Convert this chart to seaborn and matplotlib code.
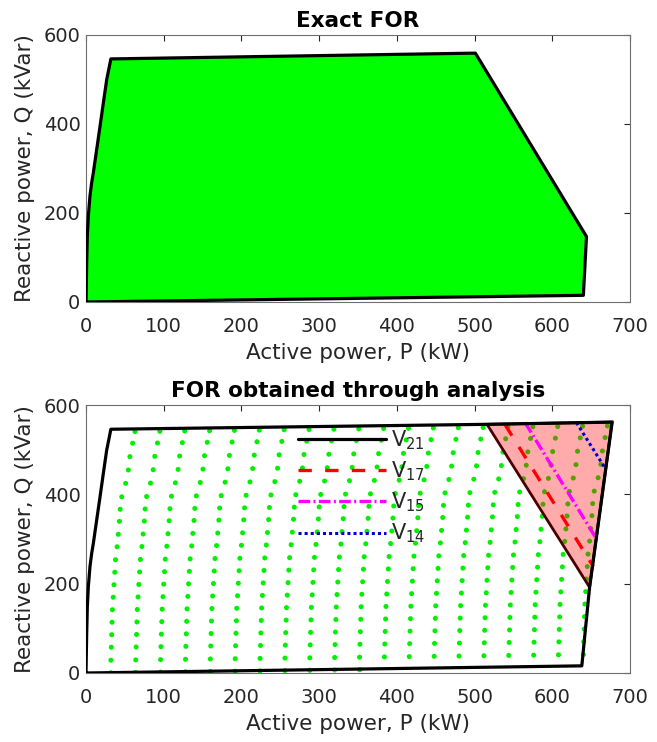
import numpy as np
import pandas as pd
import matplotlib
matplotlib.use("Agg")
import matplotlib.pyplot as plt
import seaborn as sns
from matplotlib.path import Path
from matplotlib.lines import Line2D

# ---------------- data ----------------
# left boundary of the feasible region (shared by both panels)
left_edge_q = [0, 89, 148, 193, 238, 268, 290, 342, 394, 447, 499, 546]
left_edge_p = [0, 0.9, 1.7, 3.0, 5.1, 7.3, 9.4, 13.7, 18.0, 22.3, 26.6, 32.0]

# exact FOR: remaining vertices (clockwise from top-left)
exact_rest_p = [501, 644, 640]
exact_rest_q = [559, 147, 15]

# FOR obtained through analysis: remaining vertices
analysis_rest_p = [516, 677, 648, 638]
analysis_rest_q = [557, 562, 192, 16]

# shaded (red) region
tri_p = [516, 677, 648]
tri_q = [557, 562, 192]

# voltage limit lines
v17_p = [539, 653]
v17_q = [557, 238]
v15_p = [565, 657]
v15_q = [561, 300]
v14_p = [631, 669]
v14_q = [561, 456]

# sampling grid of the analysis (green dots)
dot_row_q = [0, 28, 57, 85, 113, 141, 169, 197, 225, 253, 282, 310, 339, 366,
             394, 424, 454, 484, 514, 540]
dot_row_shift = [0, 0, 0.5, 1, 1.5, 2, 3, 4, 5, 6, 8, 9.5, 11, 12, 14, 19,
                 22.5, 24.5, 28, 31]
dot_col_p = [32, 64, 96, 128, 160, 192, 224, 256, 288, 320, 352, 384, 416,
             448, 480, 512, 544, 576, 608, 640]
dot_col_rise = [0.7, 1.3, 2, 2.7, 3.4, 4, 4.7, 5.4, 6, 6.7, 7.4, 8, 8.7,
                9.4, 10, 10.7, 11.4, 12, 12.7, 13.4]

x_ticks = [0, 100, 200, 300, 400, 500, 600, 700]
y_ticks = [0, 200, 400, 600]
legend_labels = [r"$\mathregular{V_{21}}$", r"$\mathregular{V_{17}}$",
                 r"$\mathregular{V_{15}}$", r"$\mathregular{V_{14}}$"]

# ---------------- style ----------------
sns.set_theme(style="white")
plt.rcParams["font.family"] = ["DejaVu Sans"]
plt.rcParams["mathtext.fontset"] = "dejavusans"

fig = plt.figure(figsize=(6.57, 7.42), dpi=100)
ax1 = fig.add_axes([0.1309, 0.593, 0.828, 0.360])
ax2 = fig.add_axes([0.1309, 0.093, 0.828, 0.361])

GREEN = "#00ff00"
TXT = "#262626"


def style_axes(ax, title):
    ax.set_xlim(0, 700)
    ax.set_ylim(0, 600)
    ax.set_xticks(x_ticks)
    ax.set_yticks(y_ticks)
    ax.tick_params(direction="in", length=4, width=0.8, top=True, right=True,
                   labelsize=14, colors=TXT)
    ax.tick_params(axis="x", pad=11)
    ax.tick_params(axis="y", pad=4)
    for s in ax.spines.values():
        s.set_color("#6e6e6e")
        s.set_linewidth(0.8)
    ax.set_xlabel("Active power, P (kW)", fontsize=15.5, color=TXT, labelpad=5)
    ax.set_ylabel("Reactive power, Q (kVar)", fontsize=15.5, color=TXT, labelpad=6)
    ax.set_title(title, fontsize=15.5, fontweight="bold", color="black", pad=5.5)


# ---------------- top panel: exact FOR ----------------
exact_p = left_edge_p + exact_rest_p + [left_edge_p[0]]
exact_q = left_edge_q + exact_rest_q + [left_edge_q[0]]
ax1.fill(exact_p, exact_q, color=GREEN, lw=0, zorder=1)
sns.lineplot(x=exact_p, y=exact_q, sort=False, estimator=None, color="black",
             lw=2.3, ax=ax1, zorder=3)
style_axes(ax1, "Exact FOR")

# ---------------- bottom panel: analysis ----------------
ana_p = left_edge_p + analysis_rest_p + [left_edge_p[0]]
ana_q = left_edge_q + analysis_rest_q + [left_edge_q[0]]

gp, gq = [], []
for rq, rs in zip(dot_row_q, dot_row_shift):
    for cp, cr in zip(dot_col_p, dot_col_rise):
        gp.append(rs + cp)
        gq.append(rq + cr)
pts = np.column_stack([gp, gq])
poly = Path(np.column_stack([ana_p, ana_q]))
inside = poly.contains_points(pts, radius=3) | poly.contains_points(pts, radius=-3)
dots = pd.DataFrame({"P": pts[inside, 0], "Q": pts[inside, 1]})
sns.scatterplot(data=dots, x="P", y="Q", s=13, color="#00f000", edgecolor="none",
                linewidth=0, ax=ax2, zorder=2)

ax2.fill(tri_p, tri_q, facecolor=(1, 0, 0, 0.33), edgecolor="#4a0000", lw=2.0,
         zorder=3)

sns.lineplot(x=v17_p, y=v17_q, sort=False, estimator=None, color="red", lw=2.4,
             ax=ax2, zorder=4)
ax2.lines[-1].set_dashes([4, 4])
sns.lineplot(x=v15_p, y=v15_q, sort=False, estimator=None, color="magenta",
             lw=2.4, ax=ax2, zorder=4)
ax2.lines[-1].set_dashes([3.5, 1, 0.6, 1])
sns.lineplot(x=v14_p, y=v14_q, sort=False, estimator=None, color="#0000cc",
             lw=2.2, ax=ax2, zorder=4)
ax2.lines[-1].set_dashes([1, 1])

sns.lineplot(x=ana_p, y=ana_q, sort=False, estimator=None, color="black",
             lw=2.3, ax=ax2, zorder=5)
style_axes(ax2, "FOR obtained through analysis")

handles = [
    Line2D([], [], color="black", lw=2.3),
    Line2D([], [], color="red", lw=2.4, dashes=[4, 4]),
    Line2D([], [], color="magenta", lw=2.4, dashes=[3.5, 1, 0.6, 1]),
    Line2D([], [], color="#0000cc", lw=2.2, dashes=[1, 1]),
]
ax2.legend(handles, legend_labels, loc="upper left", bbox_to_anchor=(0.39, 0.915),
           frameon=False, fontsize=15, handlelength=4.2, handletextpad=0.25,
           labelspacing=0.37, borderpad=0, borderaxespad=0)

fig.savefig("out.png", dpi=100)
